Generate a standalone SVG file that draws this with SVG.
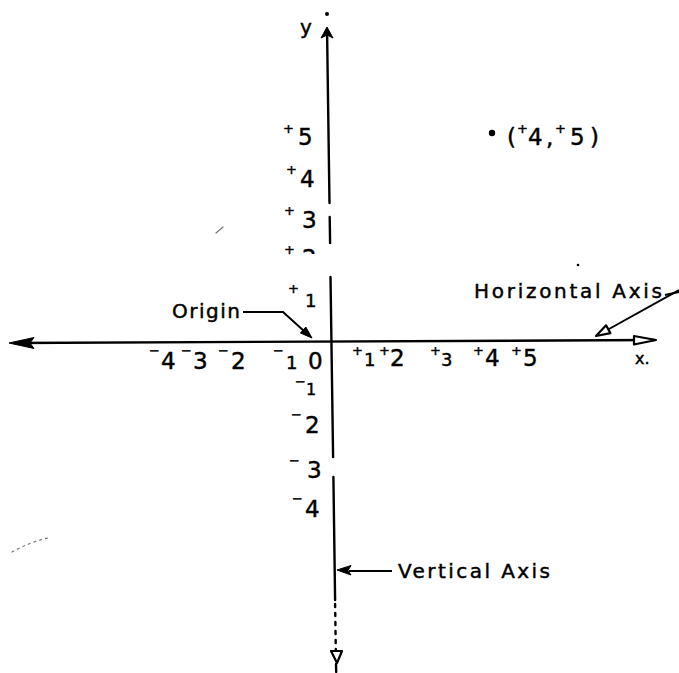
<svg xmlns="http://www.w3.org/2000/svg" width="679" height="673" viewBox="0 0 679 673">
<defs>
<style>
.t{font-family:"DejaVu Sans","Liberation Sans",sans-serif;fill:#000;stroke:#000;stroke-width:0.45}
.n{font-size:23px}
.s{font-size:13px}
.lbl{font-size:20px}
.ax{stroke:#000;stroke-width:2.4;fill:none;stroke-linecap:round}
.ld{stroke:#000;stroke-width:2;fill:none}
.ah{fill:#000;stroke:#000;stroke-width:1}
.ao{fill:#fff;stroke:#000;stroke-width:2.2;stroke-linejoin:round}
</style>
<clipPath id="clip2"><rect x="295" y="240" width="30" height="14"/></clipPath>
</defs>
<rect width="679" height="673" fill="#fff"/>

<g id="connectors">
  <!-- horizontal axis -->
  <path class="ax" d="M14 343 L654 340"/>
  <polygon class="ah" points="9,343 34,337.5 30,343 34,348.5"/>
  <polygon class="ao" points="634,336 656,340 634,344.5"/>
  <!-- vertical axis (broken scan line) -->
  <path class="ax" d="M327.1 34 L329.5 203 M329.7 217 L330.1 243 M330.5 277 L333.1 457 M333.4 477 L335.1 600"/>
  <path class="ax" stroke-dasharray="3 6" d="M335.1 604 L335.8 650"/>
  <path class="ax" d="M336 664 L336.2 672"/>
  <polygon class="ah" points="327,27 333,38 327,35 321,38"/>
  <polygon class="ao" points="331,651 342,651 337,663"/>
  <!-- origin leader -->
  <path class="ld" d="M243 312 L283 312 L304 331"/>
  <polygon class="ah" points="312,338 300.4,333 305.8,327"/>
  <!-- horizontal axis leader -->
  <path class="ld" d="M665 295 L679 292"/>
  <path class="ld" d="M679 290 L609 329"/>
  <polygon class="ao" points="596,336 610.4,333.1 606.1,325.3"/>
  <!-- vertical axis leader -->
  <path class="ld" d="M349 571 L392 571"/>
  <polygon class="ah" points="337,570 351,565.5 348,570.5 351,575"/>
</g>

<g id="axis-names">
  <text class="t" x="300" y="34" font-size="20">y</text>
  <circle cx="327" cy="14" r="2"/>
  <text class="t" x="635" y="364" font-size="16">x.</text>
</g>

<g id="origin">
  <text class="t lbl" x="172" y="318" textLength="68" lengthAdjust="spacing">Origin</text>
</g>
<g id="horizontal-axis">
  <text class="t lbl" x="474" y="298" textLength="188" lengthAdjust="spacing">Horizontal Axis</text>
</g>
<g id="vertical-axis">
  <text class="t lbl" x="398" y="578" textLength="152" lengthAdjust="spacing">Vertical Axis</text>
</g>

<g id="y-ticks">
  <text class="t n" y="145"><tspan class="s" x="283" dy="-12">+</tspan><tspan x="298" dy="12">5</tspan></text>
  <text class="t n" y="187"><tspan class="s" x="286" dy="-13">+</tspan><tspan x="300" dy="13">4</tspan></text>
  <text class="t n" y="228"><tspan class="s" x="284" dy="-13">+</tspan><tspan x="302" dy="13">3</tspan></text>
  <text class="t n" y="254"><tspan class="s" x="284" dy="0">+</tspan></text>
  <text class="t n" x="302" y="266" clip-path="url(#clip2)">2</text>
  <text class="t n" y="307"><tspan class="s" x="288" dy="-14">+</tspan><tspan x="305" dy="14" font-size="18">1</tspan></text>
  <text class="t n" y="395"><tspan class="s" x="295" dy="-9">−</tspan><tspan x="306" dy="9" font-size="16">1</tspan></text>
  <text class="t n" y="433"><tspan class="s" x="291" dy="-14">−</tspan><tspan x="305" dy="14">2</tspan></text>
  <text class="t n" y="478"><tspan class="s" x="289" dy="-13">−</tspan><tspan x="307" dy="13">3</tspan></text>
  <text class="t n" y="517"><tspan class="s" x="292" dy="-14">−</tspan><tspan x="305" dy="14">4</tspan></text>
</g>

<g id="x-ticks">
  <text class="t n" y="369"><tspan class="s" x="149" dy="-14">−</tspan><tspan x="161" dy="14">4</tspan></text>
  <text class="t n" y="369"><tspan class="s" x="181" dy="-14">−</tspan><tspan x="193" dy="14">3</tspan></text>
  <text class="t n" y="369"><tspan class="s" x="218" dy="-14">−</tspan><tspan x="231" dy="14">2</tspan></text>
  <text class="t n" y="369"><tspan class="s" x="273" dy="-14">−</tspan><tspan x="286" dy="14" font-size="18">1</tspan></text>
  <text class="t n" x="308" y="369">0</text>
  <text class="t n" y="366"><tspan class="s" x="352" dy="-11">+</tspan><tspan x="364" dy="11" font-size="18">1</tspan></text>
  <text class="t n" y="366"><tspan class="s" x="379" dy="-11">+</tspan><tspan x="390" dy="11">2</tspan></text>
  <text class="t n" y="366"><tspan class="s" x="430" dy="-11">+</tspan><tspan x="441" dy="11" font-size="18">3</tspan></text>
  <text class="t n" y="366"><tspan class="s" x="473" dy="-11">+</tspan><tspan x="485" dy="11">4</tspan></text>
  <text class="t n" y="366"><tspan class="s" x="511" dy="-11">+</tspan><tspan x="523" dy="11">5</tspan></text>
</g>

<g id="point">
  <circle cx="492" cy="133" r="3.2"/>
  <text class="t n" y="145"><tspan x="507">(</tspan><tspan class="s" x="517" dy="-12">+</tspan><tspan x="528" dy="12">4</tspan><tspan x="546">,</tspan><tspan class="s" x="555" dy="-12">+</tspan><tspan x="570" dy="12">5</tspan><tspan x="590">)</tspan></text>
  <circle cx="578" cy="265" r="1.3"/>
</g>

<g id="scan-marks" stroke="#777" stroke-width="1.2" fill="none" stroke-linecap="round">
  <path d="M216 233 L223 227"/>
  <path stroke-dasharray="2 4" d="M12 552 Q30 542 48 538"/>
</g>
</svg>
